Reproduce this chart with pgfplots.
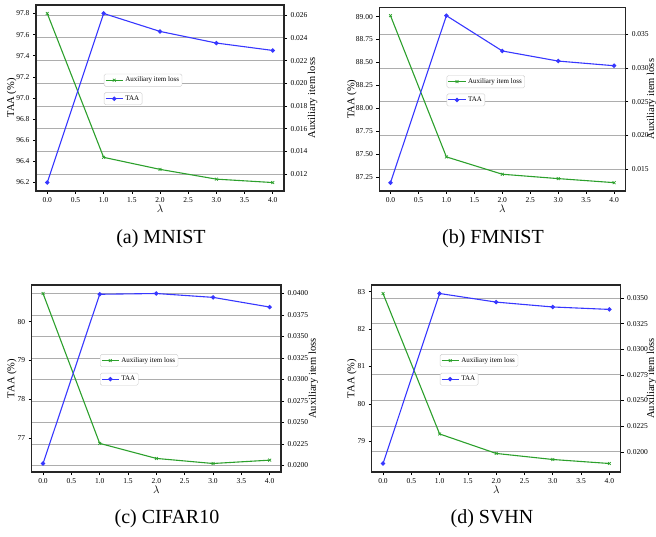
\documentclass[border=0pt]{standalone}
\usepackage{pgfplots}
\usepackage{pgfplotstable}
\pgfplotsset{compat=1.18}
\usepackage{fontspec}
\setmainfont{Liberation Serif}

\definecolor{lossgreen}{RGB}{44,160,44}
\definecolor{taablue}{RGB}{55,55,255}

% lam taa loss
\pgfplotstableread{
lam taa loss
0 96.20 0.02615
1 97.80 0.01348
2 97.63 0.01242
3 97.52 0.01156
4 97.45 0.01126
}\mnist
\pgfplotstableread{
lam taa loss
0 87.19 0.03779
1 89.01 0.01679
2 88.625 0.01421
3 88.515 0.01356
4 88.464 0.01296
}\fmnist
\pgfplotstableread{
lam taa loss
0 76.34 0.04000
1 80.71 0.02257
2 80.73 0.02082
3 80.63 0.02023
4 80.38 0.02062
}\cifar
\pgfplotstableread{
lam taa loss
0 78.41 0.03543
1 82.95 0.02174
2 82.72 0.01984
3 82.59 0.01925
4 82.525 0.01886
}\svhn

\pgfplotsset{
  prec/.style={/pgf/number format/fixed, /pgf/number format/fixed zerofill,
    /pgf/number format/precision=#1},
  base/.style={
    scale only axis,
    xmin=-0.2, xmax=4.2,
    enlarge y limits=0.05,
    scaled y ticks=false, scaled x ticks=false,
    axis line style={line width=1.2pt, black!85},
    tick style={black, line width=0.6pt},
    tick align=outside,
    major tick length=3pt,
    ticklabel style={font=\fontsize{7.5}{8}\selectfont},
    label style={font=\fontsize{10.5}{12}\selectfont},
    /pgf/number format/assume math mode=true,
    legend cell align=left,
    legend style={font=\fontsize{7}{8}\selectfont, draw=black!20, fill=white,
      rounded corners=1.5pt, inner sep=1pt, anchor=north west},
  },
  leftax/.style={base,
    ytick pos=left, xtick pos=bottom,
    xtick={0,0.5,...,4},
    xticklabel style={prec=1},
    xlabel={$\lambda$},
    xlabel style={at={(axis description cs:0.5,-0.097)}, anchor=center},
    ylabel={TAA (\%)},
    legend style={at={(0.274,0.53)}},
  },
  rightax/.style={base,
    ytick pos=right, yticklabel pos=right, xtick=\empty,
    ymajorgrids, grid style={black!32, line width=0.8pt},
    ylabel={Auxiliary item loss},
    legend style={at={(0.274,0.63)}},
  },
  taa/.style={taablue, line width=1.1pt, mark=*, mark size=1.6pt},
  loss/.style={lossgreen, line width=1.1pt, mark=x, mark size=2pt, mark options={line width=0.7pt}},
}

\begin{document}
\begin{tikzpicture}
\useasboundingbox (0,0) rectangle (656pt,536pt);

% (a) MNIST
\begin{axis}[rightax, at={(36pt,345pt)}, anchor=south west, width=248pt, height=186pt,
  ytick={0.012,0.014,...,0.0265},
  yticklabel style={prec=3},
  ylabel style={at={(axis description cs:1.115,0.5)}, anchor=center}]
\addplot[loss] table[x=lam, y=loss] {\mnist};
\addlegendentry{Auxiliary item loss}
\end{axis}
\begin{axis}[leftax, at={(36pt,345pt)}, anchor=south west, width=248pt, height=186pt,
  ytick={96.2,96.4,...,97.85},
  yticklabel style={prec=1},
  ylabel style={at={(axis description cs:-0.098,0.5)}, anchor=center}]
\addplot[taa] table[x=lam, y=taa] {\mnist};
\addlegendentry{TAA}
\end{axis}

% (b) FMNIST
\begin{axis}[rightax, at={(379.3pt,345pt)}, anchor=south west, width=246pt, height=183.7pt,
  ytick={0.015,0.020,...,0.0355},
  yticklabel style={prec=3},
  ylabel style={at={(axis description cs:1.107,0.5)}, anchor=center}]
\addplot[loss] table[x=lam, y=loss] {\fmnist};
\addlegendentry{Auxiliary item loss}
\end{axis}
\begin{axis}[leftax, at={(379.3pt,345pt)}, anchor=south west, width=246pt, height=183.7pt,
  ytick={87.25,87.5,...,89.01},
  yticklabel style={prec=2},
  ylabel style={at={(axis description cs:-0.112,0.5)}, anchor=center}]
\addplot[taa] table[x=lam, y=taa] {\fmnist};
\addlegendentry{TAA}
\end{axis}

% (c) CIFAR10
\begin{axis}[rightax, at={(31.7pt,64pt)}, anchor=south west, width=249.3pt, height=187pt,
  ytick={0.02,0.0225,...,0.0401},
  yticklabel style={prec=4},
  ylabel style={at={(axis description cs:1.13,0.5)}, anchor=center}]
\addplot[loss] table[x=lam, y=loss] {\cifar};
\addlegendentry{Auxiliary item loss}
\end{axis}
\begin{axis}[leftax, at={(31.7pt,64pt)}, anchor=south west, width=249.3pt, height=187pt,
  ytick={77,78,79,80},
  ylabel style={at={(axis description cs:-0.08,0.5)}, anchor=center}]
\addplot[taa] table[x=lam, y=taa] {\cifar};
\addlegendentry{TAA}
\end{axis}

% (d) SVHN
\begin{axis}[rightax, at={(371.7pt,64pt)}, anchor=south west, width=249pt, height=187pt,
  ytick={0.02,0.0225,...,0.0351},
  yticklabel style={prec=4},
  ylabel style={at={(axis description cs:1.124,0.5)}, anchor=center}]
\addplot[loss] table[x=lam, y=loss] {\svhn};
\addlegendentry{Auxiliary item loss}
\end{axis}
\begin{axis}[leftax, at={(371.7pt,64pt)}, anchor=south west, width=249pt, height=187pt,
  ytick={79,80,81,82,83},
  ylabel style={at={(axis description cs:-0.08,0.5)}, anchor=center}]
\addplot[taa] table[x=lam, y=taa] {\svhn};
\addlegendentry{TAA}
\end{axis}

\node[font=\fontsize{20}{22}\selectfont] at (161pt,297pt) {(a) MNIST};
\node[font=\fontsize{20}{22}\selectfont] at (493pt,297pt) {(b) FMNIST};
\node[font=\fontsize{20}{22}\selectfont] at (167pt,17pt) {(c) CIFAR10};
\node[font=\fontsize{20}{22}\selectfont] at (492pt,17pt) {(d) SVHN};
\end{tikzpicture}
\end{document}
